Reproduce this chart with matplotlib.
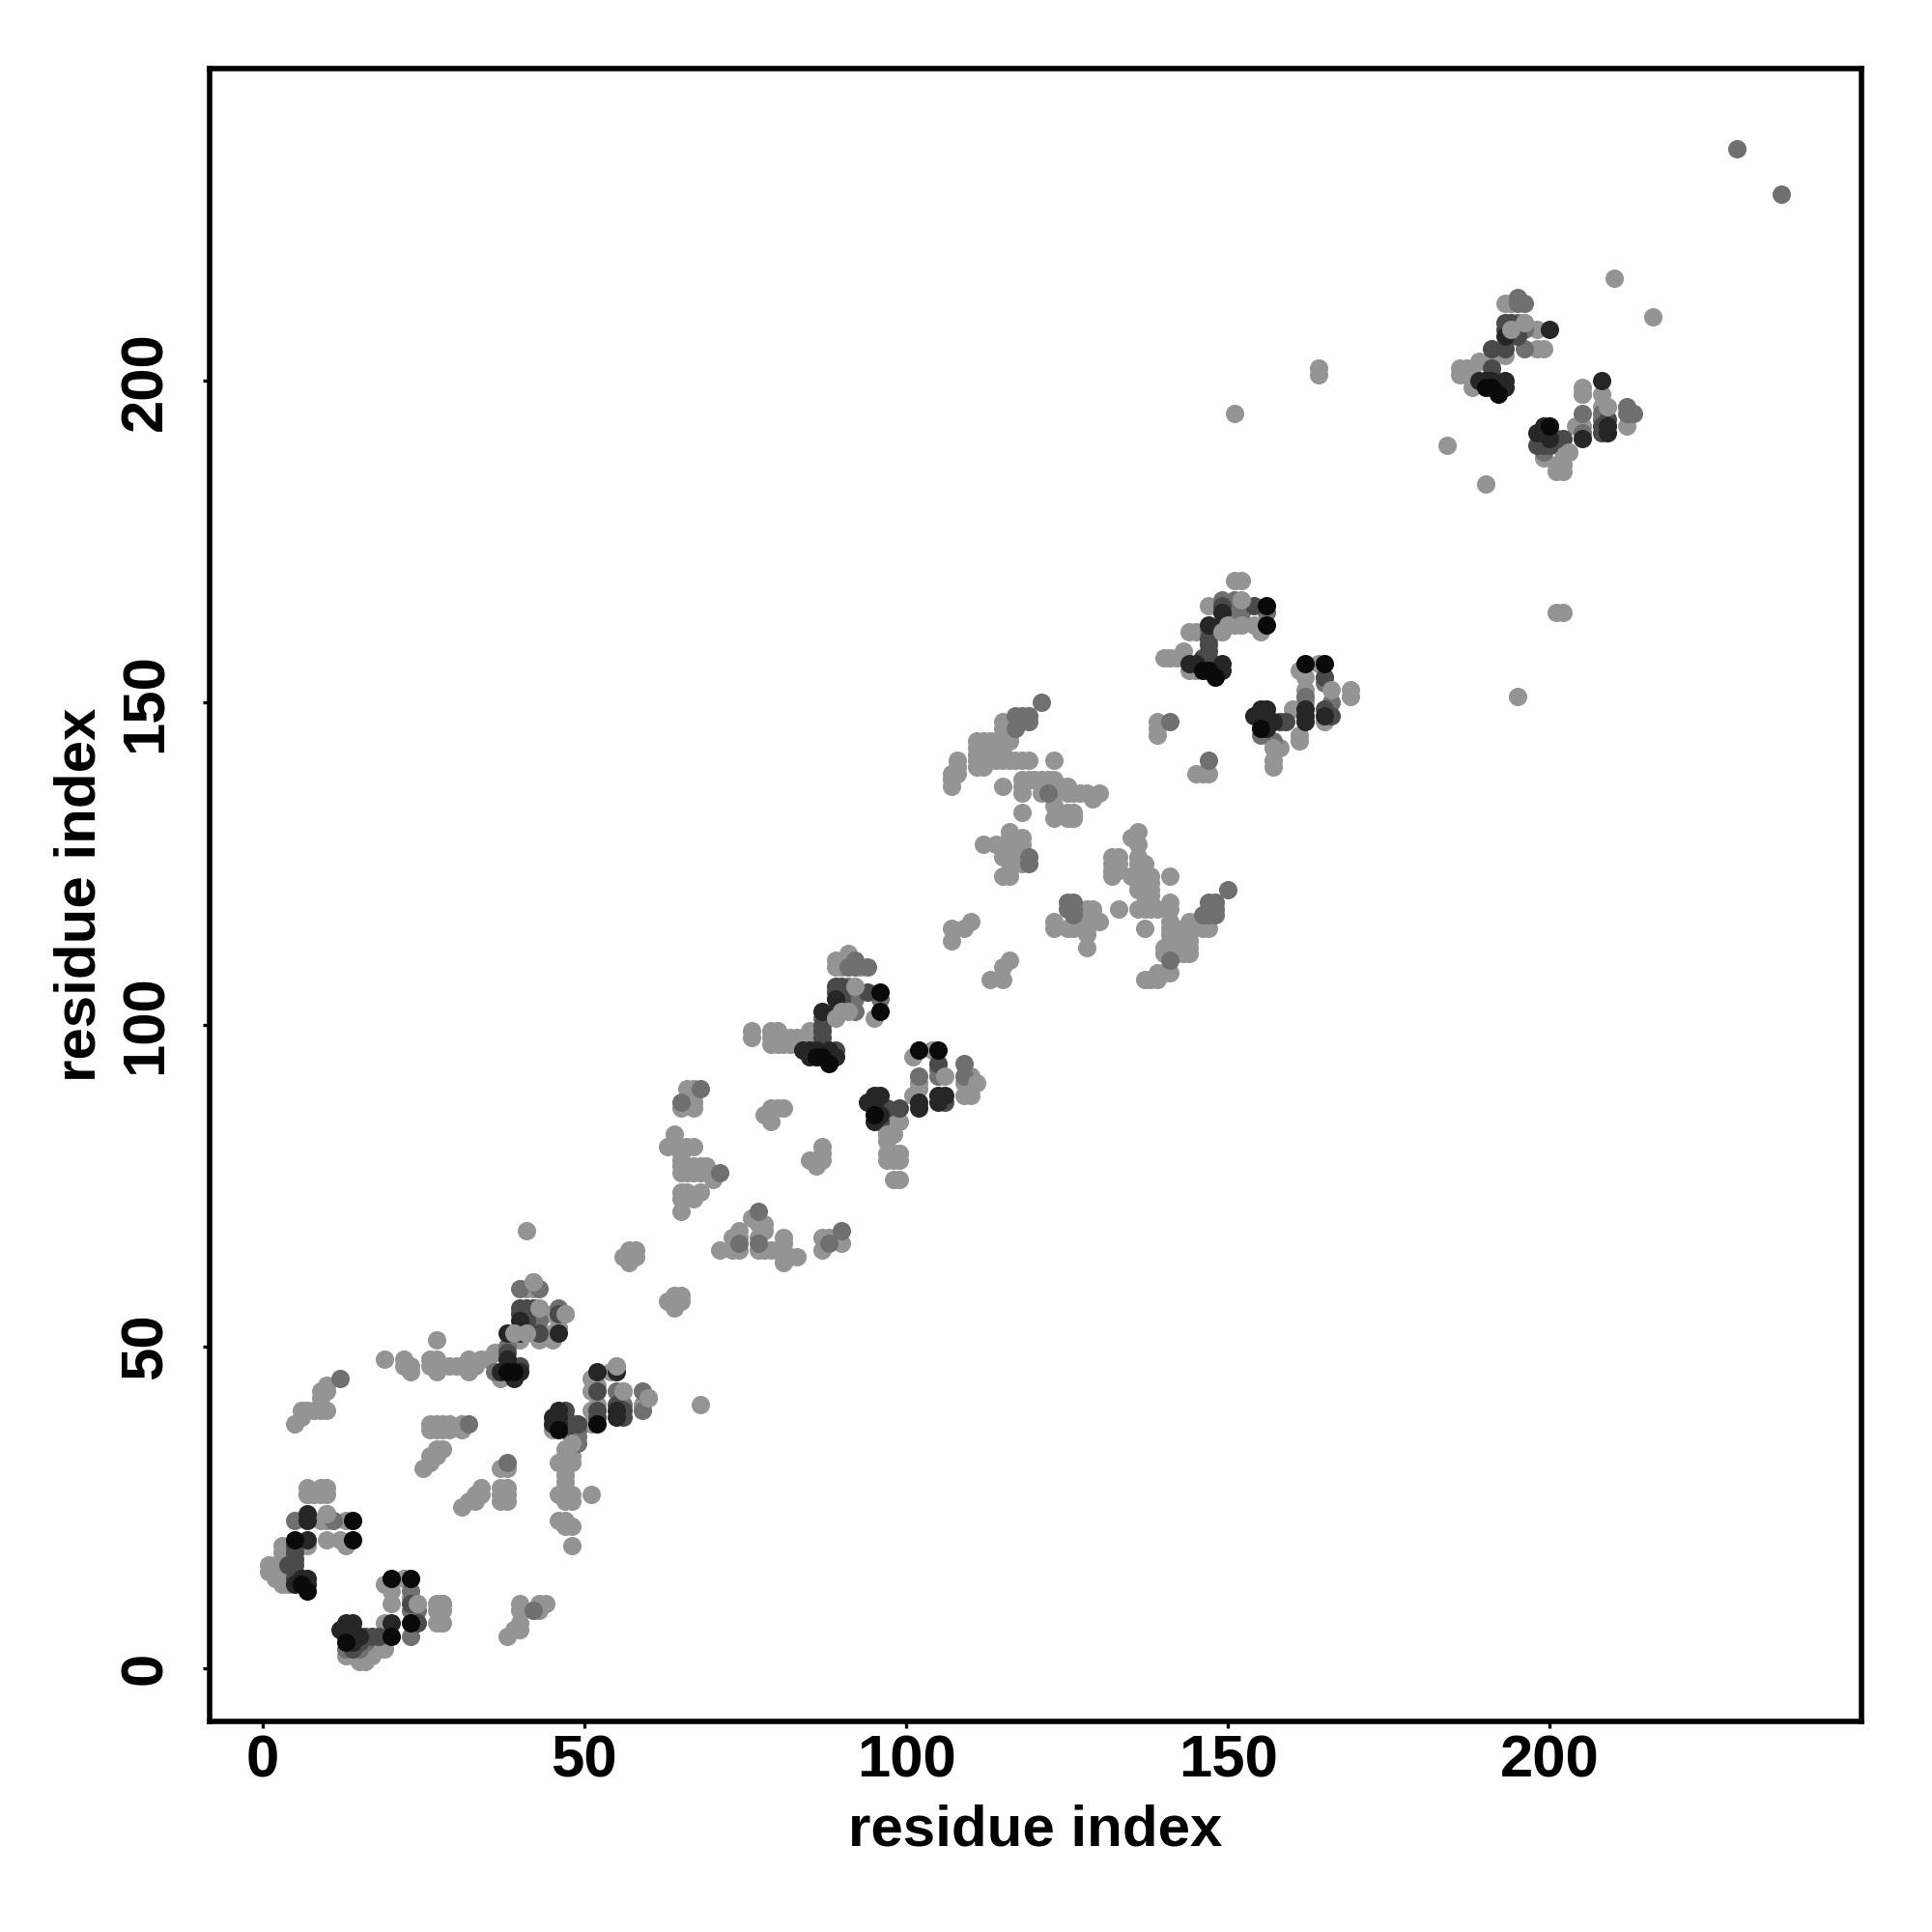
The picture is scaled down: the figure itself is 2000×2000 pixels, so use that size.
import numpy as np
import matplotlib
matplotlib.use("Agg")
import matplotlib.pyplot as plt

# contacts, grouped by grey level (residue i, residue j)
contacts_light = [
    (1,15),(1,16),(2,14),(2,15),(2,16),(3,13),(3,14),(3,15),(3,16),(3,17),(3,18),(3,19),(4,13),(4,14),(4,15),(4,18),
    (7,19),(10,20),(12,20),(13,19),(13,23),(10,24),(9,23),(10,23),(7,27),(8,27),(9,28),(10,28),(10,27),(9,27),(7,28),
    (13,2),(14,2),(15,1),(15,2),(16,1),(16,2),(16,3),(17,2),(18,3),(19,3),(19,7),(19,13),(20,10),(20,12),(22,14),
    (24,10),(23,11),(27,10),(28,10),(27,9),(28,9),(27,7),(28,7),(38,5),(39,6),(40,6),(40,7),(40,10),(40,9),(43,9),
    (43,10),(44,10),(46,23),(47,23),(47,22),(48,22),(48,19),(51,27),(46,27),(47,26),(48,26),(48,27),(47,27),(47,29),
    (47,30),(46,32),(47,31),(47,32),(48,32),(48,33),(47,33),(45,37),(48,35),(47,34),(51,38),(51,40),(52,41),(51,43),
    (51,45),(52,44),(55,47),(54,46),(56,43),(59,41),(68,41),(47,55),(45,55),(46,53),(45,52),(45,51),(43,51),(43,56),
    (41,59),(42,60),(42,59),(39,52),(41,52),(39,51),(40,51),(37,49),(36,49),(35,48),(37,45),(26,47),(26,48),(27,48),
    (27,46),(28,47),(29,47),(30,47),(31,47),(32,48),(32,46),(33,47),(34,48),(19,48),(22,48),(22,47),(23,47),(23,46),
    (27,51),(41,68),(5,38),(6,39),(6,40),(7,40),(8,40),(10,40),(9,40),(9,42),(9,43),(10,44),(10,43),(26,38),
    (27,38),(28,38),(29,38),(26,37),(27,37),(28,37),(29,37),(31,37),(31,38),(28,34),(27,33),(26,32),(26,33),(25,31),
    (27,34),(31,25),(32,26),(33,26),(34,28),(33,27),(34,27),(37,28),(38,28),(37,27),(38,27),(37,26),(38,26),(37,31),
    (38,31),(56,64),(57,64),(57,63),(58,65),(57,65),(58,64),(63,57),(64,57),(64,56),(65,58),(64,58),(65,57),
    (71,65),(73,65),(74,65),(73,67),(74,68),(74,67),(76,70),(77,69),(78,69),(78,68),(77,67),(77,65),(78,65),(79,65),
    (81,67),(81,66),(81,64),(81,63),(83,64),(80,65),(82,64),(87,65),(87,67),(88,67),(90,66),(89,67),(65,71),(65,73),
    (65,74),(67,73),(68,74),(66,74),(65,77),(65,78),(66,78),(67,78),(68,78),(69,78),(66,77),(67,77),(68,77),(70,76),
    (69,77),(64,83),(63,81),(65,81),(67,81),(66,81),(65,79),(65,80),(65,87),(67,87),(66,90),(67,90),(67,88),(67,89),
    (78,86),(79,85),(80,87),(81,87),(79,87),(85,79),(87,81),(86,78),(86,79),(87,80),(87,79),
    (76,99),(76,98),(79,99),(80,99),(79,98),(80,98),(79,97),(80,97),(81,97),(82,98),(83,98),(83,97),(82,97),(85,99),
    (85,98),(84,97),(95,101),(89,110),(89,109),(90,109),(91,111),(93,109),(97,85),(99,85),(97,83),(98,83),(97,82),
    (97,80),(98,80),(99,80),(97,79),(98,79),(99,79),(98,76),(99,76),(101,89),(102,90),(102,91),(101,95),(104,96),
    (107,113),(107,115),(109,115),(110,116),(113,107),(115,107),(115,109),(116,110),(110,89),(109,89),(109,91),(110,92),
    (108,141),(107,139),(107,137),(107,138),(108,140),(108,139),(111,144),(112,144),(113,144),(114,144),(115,144),
    (111,143),(112,143),(113,143),(114,143),(115,143),(111,142),(112,142),(113,142),(114,142),(115,142),(111,141),(112,141),
    (113,141),(114,141),(115,141),(116,141),(117,141),(118,141),(119,141),(111,140),(112,140),(123,141),(115,137),
    (118,133),(118,138),(118,137),(118,136),(119,138),(120,138),(121,138),(122,138),(123,138),(121,137),(122,137),(123,137),
    (121,136),(123,136),(125,137),(124,137),(125,136),(126,136),(128,136),(130,136),(129,135),(127,136),(123,134),(123,132),
    (125,133),(126,133),(125,132),(126,132),(115,147),(115,146),(116,146),(116,144),(116,145),(139,147),(139,146),(139,145),
    (145,139),(146,139),(147,139),(112,128),(114,128),(116,130),(116,129),(118,129),(116,128),(117,128),(118,128),(115,126),
    (116,126),(118,125),(115,123),(116,123),(116,124),(115,127),(118,127),(123,116),(123,115),(125,115),(126,115),(128,118),
    (129,118),(128,117),(129,117),(128,116),(130,116),(127,116),(128,114),(128,112),(128,115),(133,118),(136,130),(135,129),
    (136,128),(132,126),(133,126),(132,125),(133,125),(132,124),(133,124),(132,123),(136,126),(137,125),(136,125),(135,123),
    (138,123),(137,124),(138,122),(137,122),(136,122),(141,123),(136,121),(137,121),(138,121),(138,120),(137,120),(136,118),
    (137,118),(138,118),(139,118),(138,119),(141,119),(141,118),(141,116),(141,115),(137,115),(144,116),(145,116),(147,115),
    (146,115),(144,115),(143,115),(141,114),(142,114),(144,114),(141,113),(142,113),(143,113),(144,113),(140,112),(141,112),
    (142,112),(143,112),(144,112),(140,111),(141,111),(142,111),(143,111),(144,111),(141,108),(140,108),(139,108),(139,107),
    (138,107),(137,107),(140,157),(141,157),(142,157),(143,158),(143,157),(144,161),(145,161),(144,155),(145,155),(147,165),
    (149,161),(150,162),(151,162),(152,162),(154,162),(155,161),(151,169),(152,169),(157,143),(157,141),(157,140),(158,143),
    (161,144),(161,145),(160,149),(162,152),(162,150),(162,154),(161,155),(164,156),(165,147),(169,152),(169,151),
    (193,212),(194,212),(196,209),(194,208),(198,208),(198,205),(199,205),(193,204),(191,203),(189,203),(186,202),(187,202),
    (186,201),(187,201),(188,201),(188,200),(188,199),(184,190),(190,184),(199,188),(201,186),(202,186),(201,187),(202,187),
    (203,189),(202,189),(204,193),(205,193),(205,198),(205,199),(208,198),(208,196),(209,196),(212,193),(210,216),(216,210),
    (201,164),(202,164),(195,151),(164,202),(164,201),(151,195),
]
contacts_mid = [
    (5,23),(11,23),(23,12),(23,9),(24,9),(23,5),(42,9),(49,37),(49,35),(48,38),(55,43),(56,41),
    (59,43),(60,42),(59,40),(46,56),(42,55),(40,59),(43,59),(38,50),(36,46),(32,38),(12,45),(38,32),(77,71),(77,66),
    (74,66),(88,66),(90,68),(71,77),(65,88),(68,90),(87,101),(92,102),(96,104),(91,106),(92,105),(92,110),(92,109),
    (94,109),(91,109),(102,92),(105,93),(105,92),(109,94),(109,92),(119,148),(118,148),(117,148),(119,147),
    (118,147),(117,146),(121,150),(119,126),(119,125),(125,119),(126,119),(125,118),(126,118),(126,117),(122,136),
    (141,110),(147,119),(148,119),(147,118),(148,118),(146,117),(147,117),(148,117),(150,121),(141,147),(147,141),(146,157),
    (147,161),(149,166),(151,166),(152,165),(156,164),(157,144),(155,145),(165,153),(166,150),(162,151),(229,236),
    (236,229),(195,213),(196,212),(195,212),(195,209),(196,208),(196,205),(199,189),
    (205,195),(208,195),(208,194),(212,196),(213,195),(212,195),(205,192),
    (13,3),(15,3),(16,4),(48,37),(48,36),(49,36),(42,54),(43,54),(91,104),(92,104),(150,164),(151,164),(152,164),
]
contacts_darkmid = [
    (4,16),(5,14),(5,15),(5,16),(5,17),(5,18),(5,19),(15,4),(16,5),(17,5),(18,5),(14,5),(14,6),(14,3),(24,7),(23,10),(47,40),(47,38),
    (47,37),(47,39),(49,38),(52,39),(52,43),(55,41),(56,40),(56,39),(46,55),(43,52),(42,56),(41,56),(40,56),(41,55),(40,55),(40,47),
    (94,105),(89,106),(90,106),(87,100),(87,99),(87,98),(87,97),(99,87),(97,87),(96,87),(96,85),(105,94),(147,160),(147,159),
    (147,158),(147,157),(154,165),(159,147),(158,147),(165,154),(194,209),(195,208),(191,201),(191,202),(209,194),(208,193),
    (208,192),(201,191),(202,191),(198,190),(199,190),(200,190),(200,192),(146,157),(155,147),(165,149),(52,40),(89,96),
    (193,209),(193,208),(193,205),(191,205),(149,165),(89,105),(38,49),(41,54),(90,104),(194,207),(195,207),(106,88),(166,148),
]
contacts_dark = [
    (5,13),(6,14),(7,14),(7,13),(7,20),(7,24),(7,23),(12,6),(13,7),(14,7),(13,5),(13,6),
    (15,5),(14,4),(20,7),(45,39),(45,38),(46,40),(46,38),(46,39),(52,46),(55,46),(55,40),(55,39),(46,52),
    (38,52),(40,52),(38,48),(37,46),(39,45),(40,46),(38,47),(40,54),
    (87,102),(85,96),(85,95),(84,96),(86,96),(88,96),(89,102),(89,95),(88,95),(89,104),(94,88),(95,89),(96,89),(95,88),
    (95,87),(95,85),(96,86),(102,87),(102,88),(105,89),(106,89),(105,88),(144,156),(145,156),(147,162),(149,156),
    (149,155),(148,155),(149,162),(149,164),(154,148),(155,149),(156,149),(155,148),(156,146),(157,147),
    (162,147),(162,148),(162,149),(165,148),(198,192),(199,193),(199,192),(200,191),(205,191),(209,192),
    (208,200),(209,193),(200,208),(189,200),(190,200),(191,200),(193,200),(193,199),(192,199),(193,207),
]
contacts_black = [
    (5,20),(6,13),(7,12),(14,23),(14,20),(20,14),(23,14),(13,4),(20,5),(23,7),(46,37),(52,38),(38,46),(39,46),
    (86,95),(87,95),(88,94),(96,105),(96,102),(102,96),(105,96),(95,86),(146,155),(147,155),(148,154),(156,165),(156,162),
    (155,146),(162,156),(165,156),(200,193),(190,199),(191,199),(192,198),
]
# these light ones sit on top of the dark marks
contacts_top = [
    (7,27),(10,24),(24,10),(28,10),(47,55),(43,56),(42,60),(55,47),(56,43),(60,42),(48,35),(90,102),(91,102),(92,106),
    (106,92),(111,91),(152,166),(166,152),(196,209),(209,196),(203,189),(205,198),(152,162),(126,132),(99,80),
    (41,52),(39,52),(149,161),(89,101),(150,162),(194,208),(97,83),(157,143),
]

tick_values = [0, 50, 100, 150, 200]
axis_label = "residue index"

plt.rcParams["font.family"] = ["Liberation Sans", "DejaVu Sans"]
plt.rcParams["font.weight"] = "bold"

fig = plt.figure(figsize=(10, 10), dpi=200)
ax = fig.add_axes([217 / 2000, 1 - 1782 / 2000, 1710 / 2000, 1711 / 2000])

# light marks first so the dark ones read on top, same as the original
layers = [
    (contacts_light, "#949494"),
    (contacts_mid, "#707070"),
    (contacts_darkmid, "#4a4a4a"),
    (contacts_dark, "#262626"),
    (contacts_black, "#0a0a0a"),
    (contacts_top, "#949494"),
]
for points, colour in layers:
    pts = np.array(points)
    ax.scatter(pts[:, 0], pts[:, 1], s=47, c=colour, linewidths=0)

ax.set_xlim(-8.2, 248.4)
ax.set_ylim(-8.25, 248.5)
ax.set_xticks(tick_values)
ax.set_yticks(tick_values)
ax.tick_params(axis="both", length=2.6, width=1.2, labelsize=22.2)
ax.tick_params(axis="x", pad=2.2)
ax.tick_params(axis="y", pad=10.5)
for label in ax.get_yticklabels():
    label.set_rotation(90)
    label.set_va("center")

ax.set_xlabel(axis_label, fontsize=21.6, fontweight="bold")
ax.set_ylabel(axis_label, fontsize=21.6, fontweight="bold")
ax.xaxis.set_label_coords(0.5, -0.05)
ax.yaxis.set_label_coords(-0.0623, 0.5)

for spine in ax.spines.values():
    spine.set_linewidth(2.0)

fig.savefig("out.png", dpi=200)
plt.close(fig)
